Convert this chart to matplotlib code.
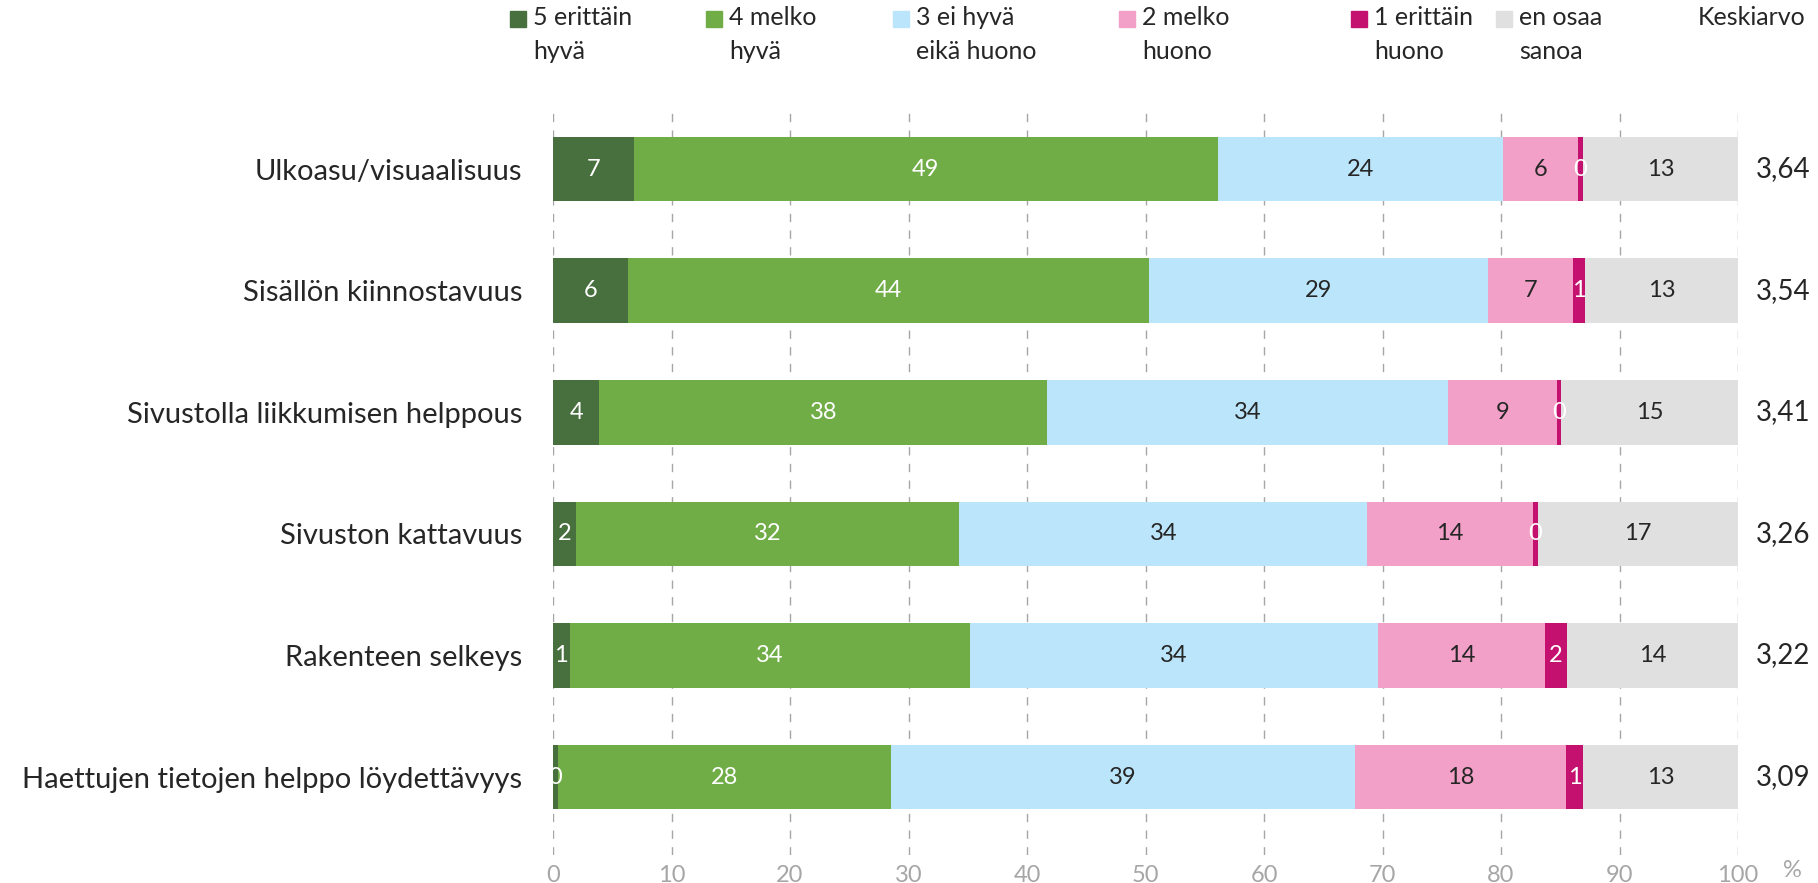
import matplotlib.pyplot as plt
from matplotlib.patches import Rectangle

plt.rcParams['font.family'] = ['Lato', 'DejaVu Sans']

# Data
categories = ["Ulkoasu/visuaalisuus", "Sisällön kiinnostavuus",
              "Sivustolla liikkumisen helppous", "Sivuston kattavuus",
              "Rakenteen selkeys", "Haettujen tietojen helppo löydettävyys"]
series_names = ["5 erittäin\nhyvä", "4 melko\nhyvä", "3 ei hyvä\neikä huono",
                "2 melko\nhuono", "1 erittäin\nhuono", "en osaa\nsanoa"]
s5 = [6.8, 6.3, 3.9, 1.9, 1.4, 0.4]
s4 = [49.3, 44.0, 37.8, 32.4, 33.8, 28.1]
s3 = [24.1, 28.6, 33.8, 34.4, 34.4, 39.2]
s2 = [6.3, 7.2, 9.2, 14.0, 14.1, 17.8]
s1 = [0.4, 1.0, 0.4, 0.4, 1.9, 1.4]
eos = [13.1, 12.9, 14.9, 16.9, 14.4, 13.1]
means = ["3,64", "3,54", "3,41", "3,26", "3,22", "3,09"]
xticks = [0, 10, 20, 30, 40, 50, 60, 70, 80, 90, 100]

colors = ["#48703F", "#70AD47", "#BBE5FA", "#F3A0C8", "#C4106E", "#E0E0E0"]
text_colors = ["white", "white", "#262626", "#262626", "white", "#262626"]

fig = plt.figure(figsize=(18.18, 8.83), dpi=100)
ax = fig.add_axes([553 / 1818, 1 - 855 / 883, 1185 / 1818, 748 / 883])

y = list(range(len(categories)))
left = [0] * len(categories)
for vals, col, tcol in zip([s5, s4, s3, s2, s1, eos], colors, text_colors):
    bars = ax.barh(y, vals, left=left, height=0.53, color=col, zorder=2)
    for b, v in zip(bars, vals):
        ax.text(b.get_x() + b.get_width() / 2, b.get_y() + b.get_height() / 2,
                str(int(round(v))), ha='center', va='center',
                color=tcol, fontsize=17, zorder=3)
    left = [l + v for l, v in zip(left, vals)]

ax.set_xlim(0, 100)
ax.set_ylim(5.64, -0.51)
ax.set_xticks(xticks)
ax.set_xticklabels([str(t) for t in xticks])
ax.set_yticks(y)
ax.set_yticklabels(categories, fontsize=21, color="#262626")
ax.tick_params(axis='x', colors="#A6A6A6", labelsize=17, length=0, pad=7)
ax.tick_params(axis='y', length=0, pad=22)
for sp in ax.spines.values():
    sp.set_visible(False)
ax.grid(axis='x', linestyle=(0, (6, 6)), color="#A6A6A6", linewidth=1, zorder=0)
ax.text(1.046, -0.021, "%", transform=ax.transAxes, ha='center', va='center',
        color="#A6A6A6", fontsize=17)

# mean values on the right
for yi, m in zip(y, means):
    ax.text(101.5, yi, m, ha='left', va='center', fontsize=20, color="#262626")

# legend drawn by hand
sq_x = [510, 706, 893, 1119, 1351, 1496]
for sx, name, col in zip(sq_x, series_names, colors):
    fig.patches.append(Rectangle((sx / 1818, 1 - 27 / 883), 16 / 1818, 16 / 883,
                                 transform=fig.transFigure, color=col))
    fig.text((sx + 23) / 1818, 1 - 6 / 883, name, ha='left', va='top',
             fontsize=18, color="#262626", linespacing=1.6)
fig.text(1698 / 1818, 1 - 6 / 883, "Keskiarvo", ha='left', va='top',
         fontsize=18, color="#262626")

fig.savefig("out.png", dpi=100)
